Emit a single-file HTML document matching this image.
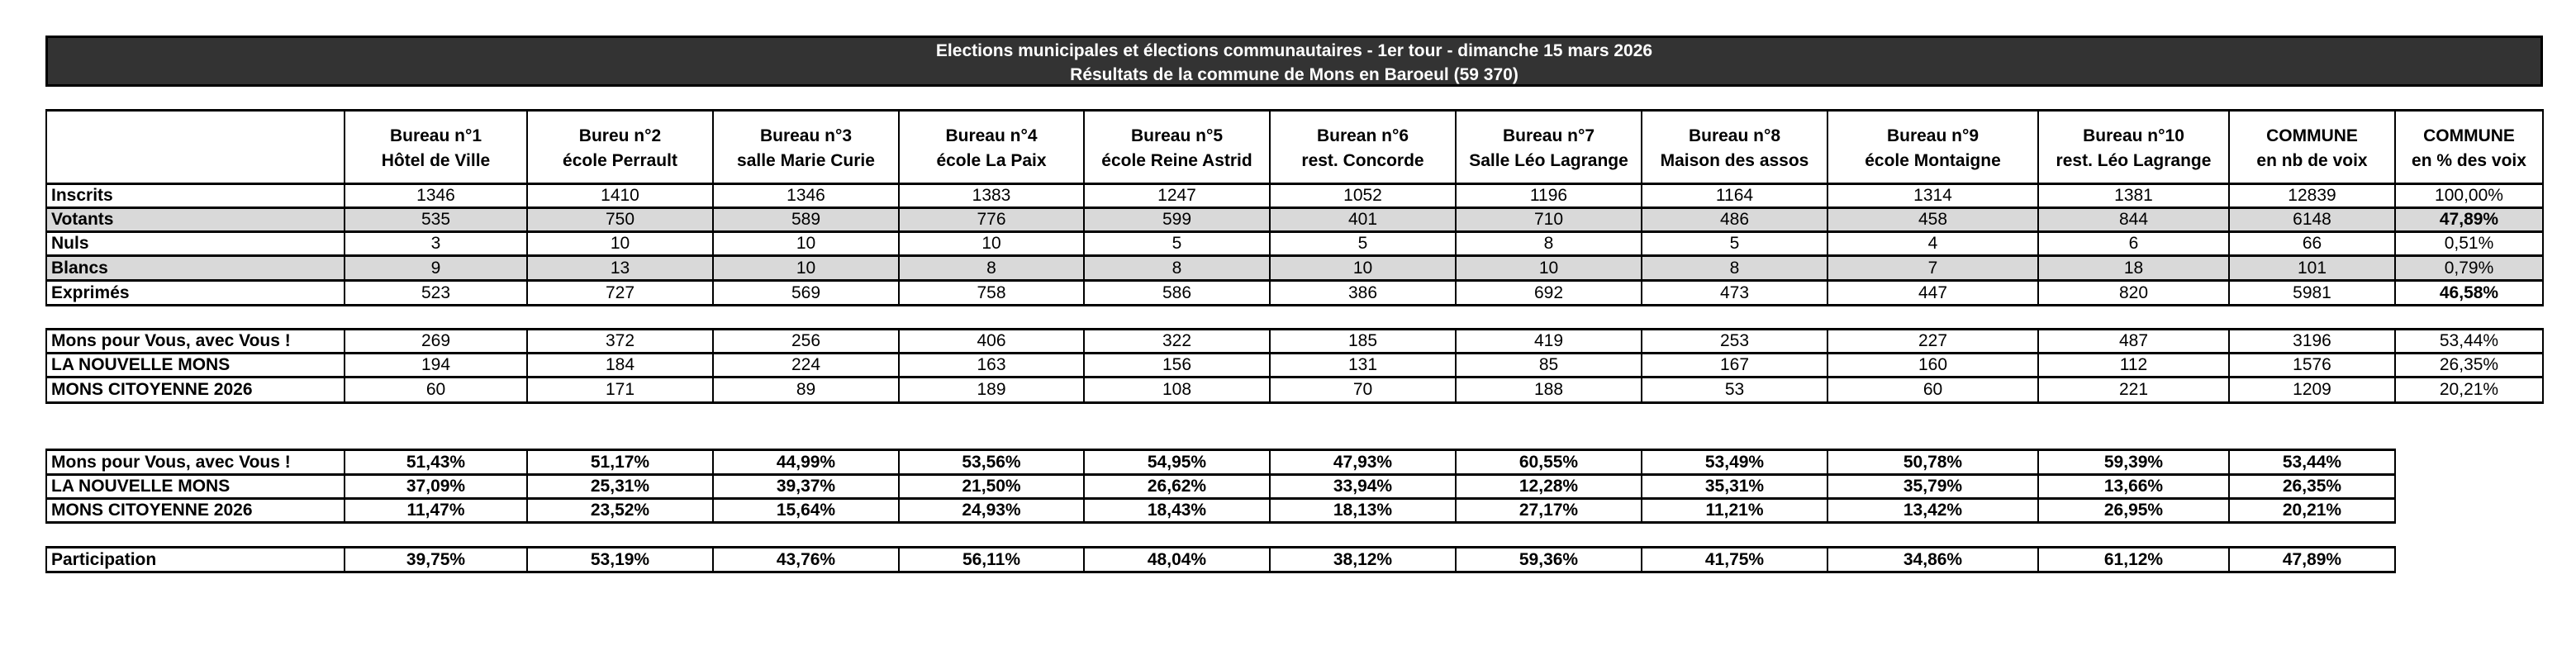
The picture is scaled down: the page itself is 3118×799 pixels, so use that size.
<!DOCTYPE html>
<html><head><meta charset="utf-8"><style>
body{margin:0;width:3118px;height:799px;background:#fff;position:relative;overflow:hidden;font-family:"Liberation Sans",Arial,sans-serif;color:#000}
.bar{position:absolute;left:55px;top:43px;width:3017px;height:55px;background:#333;border:3px solid #000;color:#fff;font-weight:bold;font-size:21px;text-align:center;line-height:29px;padding-top:1px}
table{position:absolute;left:55px;border-collapse:collapse;table-layout:fixed;font-size:21px}
td{border-left:2px solid #000;border-right:2px solid #000;border-top:3px solid #000;border-bottom:3px solid #000;text-align:center;padding:0;white-space:nowrap;overflow:hidden}
td.l{text-align:left;font-weight:bold;padding-left:5px}
tr.g td{background:#d9d9d9}
tr.h td{font-weight:bold;line-height:30px;padding-top:4px}
.b{font-weight:bold}
table.p td{font-weight:bold}
</style></head><body>
<div class="bar">Elections municipales et élections communautaires - 1er tour - dimanche 15 mars 2026<br>Résultats de la commune de Mons en Baroeul (59 370)</div>

<table style="top:132px;width:3022px">
<colgroup><col style="width:361px"><col style="width:221px"><col style="width:225px"><col style="width:225px"><col style="width:224px"><col style="width:225px"><col style="width:225px"><col style="width:225px"><col style="width:225px"><col style="width:255px"><col style="width:231px"><col style="width:201px"><col style="width:179px"></colgroup>
<tr class="h" style="height:89px"><td></td><td>Bureau n°1<br>Hôtel de Ville</td><td>Bureu n°2<br>école Perrault</td><td>Bureau n°3<br>salle Marie Curie</td><td>Bureau n°4<br>école La Paix</td><td>Bureau n°5<br>école Reine Astrid</td><td>Burean n°6<br>rest. Concorde</td><td>Bureau n°7<br>Salle Léo Lagrange</td><td>Bureau n°8<br>Maison des assos</td><td>Bureau n°9<br>école Montaigne</td><td>Bureau n°10<br>rest. Léo Lagrange</td><td>COMMUNE<br>en nb de voix</td><td>COMMUNE<br>en % des voix</td></tr>
<tr style="height:29px"><td class="l">Inscrits</td><td>1346</td><td>1410</td><td>1346</td><td>1383</td><td>1247</td><td>1052</td><td>1196</td><td>1164</td><td>1314</td><td>1381</td><td>12839</td><td>100,00%</td></tr>
<tr class="g" style="height:29px"><td class="l">Votants</td><td>535</td><td>750</td><td>589</td><td>776</td><td>599</td><td>401</td><td>710</td><td>486</td><td>458</td><td>844</td><td>6148</td><td class="b">47,89%</td></tr>
<tr style="height:29px"><td class="l">Nuls</td><td>3</td><td>10</td><td>10</td><td>10</td><td>5</td><td>5</td><td>8</td><td>5</td><td>4</td><td>6</td><td>66</td><td>0,51%</td></tr>
<tr class="g" style="height:30px"><td class="l">Blancs</td><td>9</td><td>13</td><td>10</td><td>8</td><td>8</td><td>10</td><td>10</td><td>8</td><td>7</td><td>18</td><td>101</td><td>0,79%</td></tr>
<tr style="height:30px"><td class="l">Exprimés</td><td>523</td><td>727</td><td>569</td><td>758</td><td>586</td><td>386</td><td>692</td><td>473</td><td>447</td><td>820</td><td>5981</td><td class="b">46,58%</td></tr>
</table>

<table style="top:397px;width:3022px">
<colgroup><col style="width:361px"><col style="width:221px"><col style="width:225px"><col style="width:225px"><col style="width:224px"><col style="width:225px"><col style="width:225px"><col style="width:225px"><col style="width:225px"><col style="width:255px"><col style="width:231px"><col style="width:201px"><col style="width:179px"></colgroup>
<tr style="height:29px"><td class="l">Mons pour Vous, avec Vous !</td><td>269</td><td>372</td><td>256</td><td>406</td><td>322</td><td>185</td><td>419</td><td>253</td><td>227</td><td>487</td><td>3196</td><td>53,44%</td></tr>
<tr style="height:29px"><td class="l">LA NOUVELLE MONS</td><td>194</td><td>184</td><td>224</td><td>163</td><td>156</td><td>131</td><td>85</td><td>167</td><td>160</td><td>112</td><td>1576</td><td>26,35%</td></tr>
<tr style="height:31px"><td class="l">MONS CITOYENNE 2026</td><td>60</td><td>171</td><td>89</td><td>189</td><td>108</td><td>70</td><td>188</td><td>53</td><td>60</td><td>221</td><td>1209</td><td>20,21%</td></tr>
</table>

<table class="p" style="top:543px;width:2843px">
<colgroup><col style="width:361px"><col style="width:221px"><col style="width:225px"><col style="width:225px"><col style="width:224px"><col style="width:225px"><col style="width:225px"><col style="width:225px"><col style="width:225px"><col style="width:255px"><col style="width:231px"><col style="width:201px"></colgroup>
<tr style="height:30px"><td class="l">Mons pour Vous, avec Vous !</td><td>51,43%</td><td>51,17%</td><td>44,99%</td><td>53,56%</td><td>54,95%</td><td>47,93%</td><td>60,55%</td><td>53,49%</td><td>50,78%</td><td>59,39%</td><td>53,44%</td></tr>
<tr style="height:29px"><td class="l">LA NOUVELLE MONS</td><td>37,09%</td><td>25,31%</td><td>39,37%</td><td>21,50%</td><td>26,62%</td><td>33,94%</td><td>12,28%</td><td>35,31%</td><td>35,79%</td><td>13,66%</td><td>26,35%</td></tr>
<tr style="height:29px"><td class="l">MONS CITOYENNE 2026</td><td>11,47%</td><td>23,52%</td><td>15,64%</td><td>24,93%</td><td>18,43%</td><td>18,13%</td><td>27,17%</td><td>11,21%</td><td>13,42%</td><td>26,95%</td><td>20,21%</td></tr>
</table>

<table class="p" style="top:661px;width:2843px">
<colgroup><col style="width:361px"><col style="width:221px"><col style="width:225px"><col style="width:225px"><col style="width:224px"><col style="width:225px"><col style="width:225px"><col style="width:225px"><col style="width:225px"><col style="width:255px"><col style="width:231px"><col style="width:201px"></colgroup>
<tr style="height:30px"><td class="l">Participation</td><td>39,75%</td><td>53,19%</td><td>43,76%</td><td>56,11%</td><td>48,04%</td><td>38,12%</td><td>59,36%</td><td>41,75%</td><td>34,86%</td><td>61,12%</td><td>47,89%</td></tr>
</table>
</body></html>
